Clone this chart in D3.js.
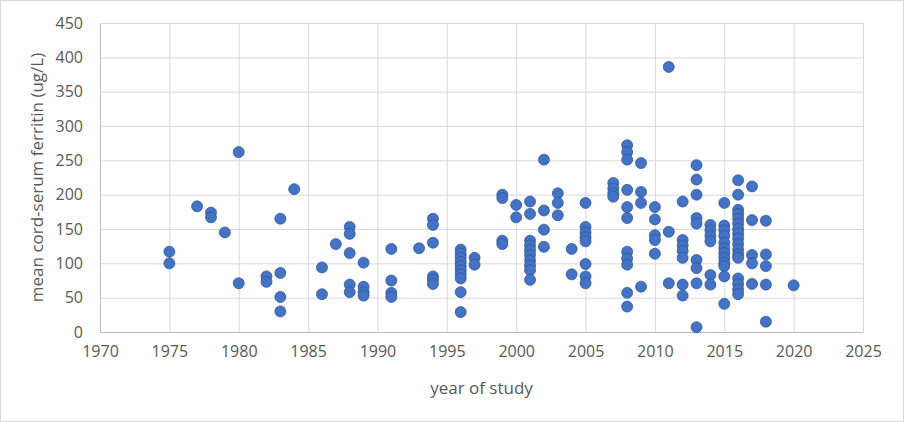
<!DOCTYPE html>
<html>
<head>
<meta charset="utf-8">
<script src="https://cdn.jsdelivr.net/npm/d3@7"></script>
<style>
  body { margin: 0; background: #fff; }
  text { font-family: "Open Sans", sans-serif; fill: #595959; }
</style>
</head>
<body>
<script>
var w = 904;
var h = 422;

// one entry per study year, values = mean cord-serum ferritin (ug/L)
var studyYears = [1975, 1977, 1978, 1979, 1980, 1982, 1983, 1984, 1986, 1987, 1988, 1989,
    1991, 1993, 1994, 1996, 1997, 1999, 2000, 2001, 2002, 2003, 2004, 2005, 2007, 2008,
    2009, 2010, 2011, 2012, 2013, 2014, 2015, 2016, 2017, 2018, 2020];
var ferritinByYear = [
    [117, 100],
    [183],
    [174, 167],
    [145],
    [262, 71],
    [81, 73],
    [165, 86, 51, 30],
    [208],
    [94, 55],
    [128],
    [153, 143, 115, 69, 58],
    [101, 66, 58, 53],
    [121, 75, 57, 51],
    [122],
    [165, 156, 130, 81, 76, 70],
    [120, 114, 108, 102, 96, 90, 84, 78, 58, 29],
    [108, 98],
    [200, 195, 133, 128],
    [185, 167],
    [190, 172, 133, 126, 119, 112, 104, 97, 90, 76],
    [251, 177, 149, 124],
    [202, 188, 170],
    [121, 84],
    [188, 153, 145, 138, 132, 99, 81, 71],
    [217, 209, 202, 197],
    [272, 262, 251, 207, 182, 166, 117, 107, 98, 57, 37],
    [246, 204, 188, 66],
    [182, 164, 141, 134, 114],
    [386, 146, 71],
    [190, 134, 126, 118, 108, 69, 53],
    [243, 222, 200, 166, 158, 105, 93, 71, 7],
    [156, 148, 140, 132, 83, 69],
    [188, 155, 148, 140, 130, 122, 115, 108, 101, 96, 81, 41],
    [221, 200, 178, 172, 165, 158, 150, 143, 136, 128, 120, 113, 108, 78, 70, 62, 55],
    [212, 163, 112, 100, 70],
    [162, 113, 96, 69, 15],
    [68]
];
var xTicks = [1970, 1975, 1980, 1985, 1990, 1995, 2000, 2005, 2010, 2015, 2020, 2025];
var yTicks = [0, 50, 100, 150, 200, 250, 300, 350, 400, 450];

var dataset = [];
for (var i = 0; i < studyYears.length; i++) {
    ferritinByYear[i].forEach(function (v) {
        dataset.push([studyYears[i], v]);
    });
}

var plotL = 100, plotR = 863, plotT = 23, plotB = 332;

var x = d3.scaleLinear().domain([1970, 2025]).range([plotL, plotR]);
var y = d3.scaleLinear().domain([0, 450]).range([plotB, plotT]);

var svg = d3.select("body")
    .append("svg")
    .attr("width", w)
    .attr("height", h);

svg.append("rect")
    .attr("x", 0.5).attr("y", 0.5)
    .attr("width", w - 1).attr("height", h - 1)
    .attr("fill", "#fff")
    .attr("stroke", "#d9d9d9");

// gridlines
svg.append("g")
    .attr("transform", "translate(0," + plotB + ")")
    .call(d3.axisBottom(x).tickValues(xTicks).tickSize(-(plotB - plotT)).tickFormat(""))
    .call(function (g) {
        g.select(".domain").remove();
        g.selectAll("line").attr("stroke", "#d9d9d9");
    });
svg.append("g")
    .attr("transform", "translate(" + plotL + ",0)")
    .call(d3.axisLeft(y).tickValues(yTicks).tickSize(-(plotR - plotL)).tickFormat(""))
    .call(function (g) {
        g.select(".domain").remove();
        g.selectAll("line").attr("stroke", "#d9d9d9");
    });

// axis lines + labels
svg.append("g")
    .attr("transform", "translate(0," + plotB + ")")
    .call(d3.axisBottom(x).tickValues(xTicks).tickSize(0).tickPadding(14).tickFormat(d3.format("d")))
    .call(function (g) {
        g.select(".domain").attr("stroke", "#bfbfbf");
        g.selectAll("text").attr("font-size", 16).attr("fill", "#595959")
            .attr("font-family", "Open Sans, sans-serif");
    });
svg.append("g")
    .attr("transform", "translate(" + plotL + ",0)")
    .call(d3.axisLeft(y).tickValues(yTicks).tickSize(0).tickPadding(17))
    .call(function (g) {
        g.select(".domain").attr("stroke", "#bfbfbf");
        g.selectAll("text").attr("font-size", 16).attr("fill", "#595959")
            .attr("font-family", "Open Sans, sans-serif");
    });

svg.selectAll("circle")
    .data(dataset)
    .enter()
    .append("circle")
    .attr("cx", function (d) { return x(d[0]); })
    .attr("cy", function (d) { return y(d[1]); })
    .attr("r", 5.5)
    .attr("fill", "#4472c4")
    .attr("stroke", "#2f5597")
    .attr("stroke-width", 0.75);

svg.append("text")
    .text("year of study")
    .attr("x", (plotL + plotR) / 2)
    .attr("y", 394)
    .attr("text-anchor", "middle")
    .attr("font-size", 17);

svg.append("text")
    .text("mean cord-serum ferritin (ug/L)")
    .attr("transform", "translate(43," + (plotT + plotB) / 2 + ") rotate(-90)")
    .attr("text-anchor", "middle")
    .attr("font-size", 17);
</script>
</body>
</html>
